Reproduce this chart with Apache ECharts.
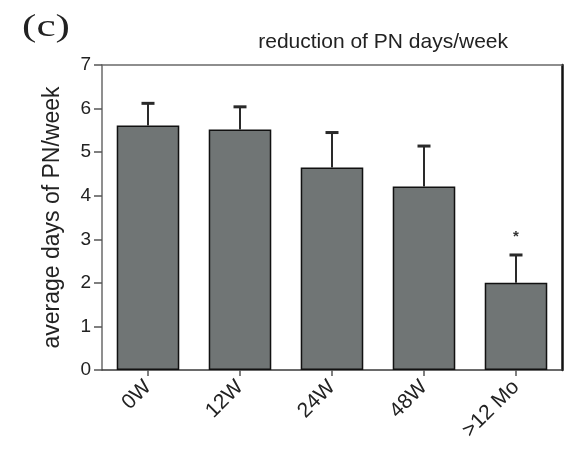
<!DOCTYPE html>
<html>
<head>
<meta charset="utf-8">
<script src="https://cdn.jsdelivr.net/npm/echarts@6/dist/echarts.min.js"></script>
<style>
  html, body { margin: 0; padding: 0; background: #ffffff; }
  #chart { width: 572px; height: 451px; }
</style>
</head>
<body>
<div id="chart"></div>
<script>
// Time points after treatment start
const categories = ['0W', '12W', '24W', '48W', '>12 Mo'];
// Mean parenteral nutrition days per week
const meanDays = [5.61, 5.52, 4.65, 4.21, 2.0];
// Upper error (SEM)
const errDays = [0.51, 0.52, 0.8, 0.93, 0.64];
// Significance marks above the error bars
const sigMarks = ['', '', '', '', '*'];
// Y axis range and tick step
const yMin = 0, yMax = 7, yStep = 1;

const chart = echarts.init(document.getElementById('chart'), null, { renderer: 'canvas' });

const errData = meanDays.map((m, i) => [i, m, errDays[i]]);

const font = 'Liberation Sans, Arial, Helvetica, sans-serif';
const ink = '#222';

chart.setOption({
  backgroundColor: '#ffffff',
  animation: false,
  title: {
    text: 'reduction of PN days/week',
    right: 59,
    top: 27,
    textStyle: { fontFamily: font, fontSize: 21, fontWeight: 'normal', color: ink }
  },
  graphic: [{
    type: 'text',
    left: 22,
    top: 12,
    scaleX: 1.35,
    style: { text: '(c)', font: '32px "Liberation Serif", "Times New Roman", serif', fill: ink }
  }],
  grid: { left: 102, right: 10, top: 65, bottom: 81 },
  xAxis: [{
    type: 'category',
    data: categories,
    axisLine: { lineStyle: { color: '#3a3a3a', width: 1.5 } },
    axisTick: { show: true, alignWithLabel: true, length: 6, lineStyle: { color: '#555', width: 1.5 } },
    axisLabel: { rotate: 45, margin: 14, fontFamily: font, fontSize: 21, color: ink }
  }, {
    type: 'category',
    position: 'top',
    data: categories,
    axisLine: { show: true, onZero: false, lineStyle: { color: '#6a6a6a', width: 1.5 } },
    axisTick: { show: false },
    axisLabel: { show: false }
  }],
  yAxis: [{
    type: 'value',
    min: yMin,
    max: yMax,
    interval: yStep,
    name: 'average days of PN/week',
    nameLocation: 'middle',
    nameGap: 38,
    nameTextStyle: { fontFamily: font, fontSize: 23, color: ink },
    axisLine: { show: true, lineStyle: { color: '#6a6a6a', width: 1.5 } },
    axisTick: { show: true, length: 8, lineStyle: { color: '#555', width: 1.5 } },
    axisLabel: { margin: 11, fontFamily: font, fontSize: 19, color: ink },
    splitLine: { show: false }
  }, {
    type: 'value',
    position: 'right',
    min: yMin,
    max: yMax,
    interval: yStep,
    axisLine: { show: true, onZero: false, lineStyle: { color: '#111', width: 2.5 } },
    axisTick: { show: false },
    axisLabel: { show: false },
    splitLine: { show: false }
  }],
  series: [{
    type: 'bar',
    data: meanDays,
    barCategoryGap: '32%',
    itemStyle: { color: '#707575', borderColor: '#111', borderWidth: 1.5 },
    z: 2
  }, {
    type: 'custom',
    data: errData,
    z: 3,
    renderItem: function (params, api) {
      const i = api.value(0);
      const m = api.value(1);
      const e = api.value(2);
      const mark = sigMarks[params.dataIndex];
      const base = api.coord([i, m]);
      const top = api.coord([i, m + e]);
      const half = 6.5;
      const children = [
        { type: 'line', shape: { x1: base[0], y1: base[1], x2: top[0], y2: top[1] }, style: { stroke: '#2a2a2a', lineWidth: 2 } },
        { type: 'line', shape: { x1: top[0] - half, y1: top[1], x2: top[0] + half, y2: top[1] }, style: { stroke: '#2a2a2a', lineWidth: 3 } }
      ];
      if (mark) {
        children.push({
          type: 'text',
          x: top[0],
          y: top[1] - 18,
          style: { text: mark, font: 'bold 15px ' + font, fill: '#333', align: 'center', verticalAlign: 'middle' }
        });
      }
      return { type: 'group', children: children };
    }
  }]
});
</script>
</body>
</html>
